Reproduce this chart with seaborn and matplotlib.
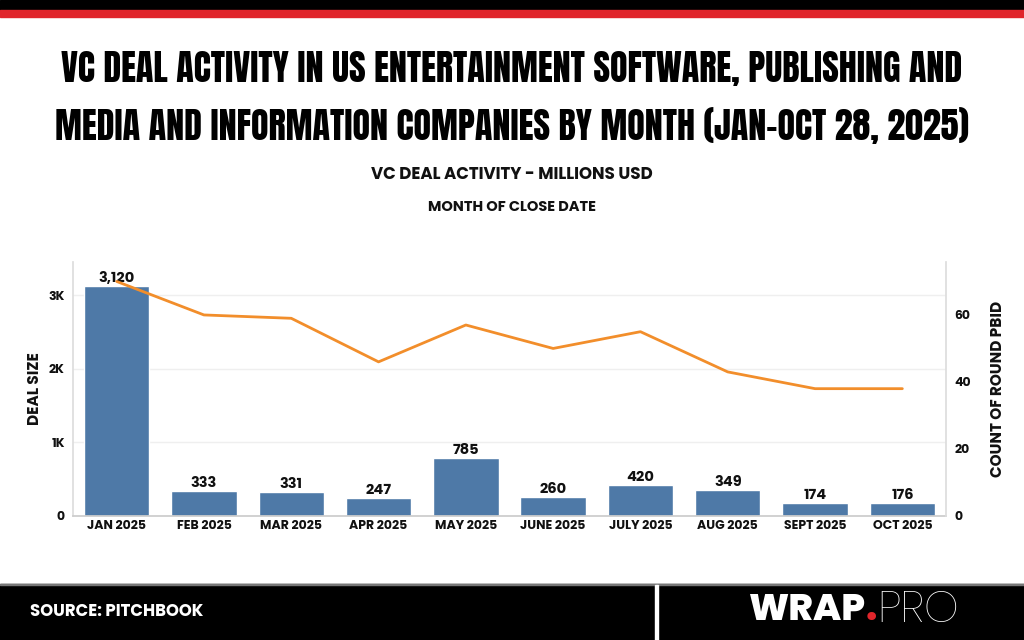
import numpy as np
import pandas as pd
import matplotlib
matplotlib.use("Agg")
import matplotlib.pyplot as plt
from matplotlib.patches import Rectangle
from matplotlib.ticker import FixedLocator
from matplotlib import font_manager as fm
import seaborn as sns

months = ["JAN 2025", "FEB 2025", "MAR 2025", "APR 2025", "MAY 2025",
          "JUNE 2025", "JULY 2025", "AUG 2025", "SEPT 2025", "OCT 2025"]
deal_size = [3120, 333, 331, 247, 785, 260, 420, 349, 174, 176]
round_count = [70, 60, 59, 46, 57, 50, 55, 43, 38, 38]
left_ticks = [0, 1000, 2000, 3000]
left_tick_labels = ["0", "1K", "2K", "3K"]
right_ticks = [0, 20, 40, 60]

title_lines = ["VC DEAL ACTIVITY IN US ENTERTAINMENT SOFTWARE, PUBLISHING AND",
               "MEDIA AND INFORMATION COMPANIES BY MONTH (JAN\u2013OCT 28, 2025)"]
subtitle = "VC DEAL ACTIVITY - MILLIONS USD"
subsubtitle = "MONTH OF CLOSE DATE"
source = "SOURCE: PITCHBOOK"

BAR = "#4E79A7"
LINE = "#F28E2B"
TXT = "#111111"


def pick(cands):
    out = []
    for c in cands:
        try:
            fm.findfont(fm.FontProperties(family=c), fallback_to_default=False)
            out.append(c)
        except Exception:
            pass
    out.append("DejaVu Sans")
    return out


BODY = pick(["Poppins", "Montserrat Alternates"])
TITLE = pick(["Anton", "Bebas Neue", "Barlow Condensed", "Oswald", "Liberation Sans Narrow"])
TITLE_W = "normal" if TITLE[0] in ("Anton", "Bebas Neue") else "bold"

sns.set_theme(style="white")
plt.rcParams["font.family"] = BODY

df = pd.DataFrame({"month": months, "deal": deal_size, "count": round_count})

W, H = 1024, 640
fig = plt.figure(figsize=(W / 100, H / 100), dpi=100)


def fx(px):
    return px / W


def fy(py):
    return 1 - py / H


# top stripes
fig.patches.append(Rectangle((0, fy(10)), 1, 10 / H, transform=fig.transFigure, color="#000000", zorder=0))
fig.patches.append(Rectangle((0, fy(17)), 1, 7 / H, transform=fig.transFigure, color="#E0252B", zorder=0))
# footer
fig.patches.append(Rectangle((0, 0), 1, (H - 584) / H, transform=fig.transFigure, color="#000000", zorder=0))
fig.patches.append(Rectangle((0, fy(585)), 1, 1.5 / H, transform=fig.transFigure, color="#777777", zorder=1))
fig.patches.append(Rectangle((fx(655), 0), 3 / W, (H - 585) / H, transform=fig.transFigure, color="#FFFFFF", zorder=1))

ax = fig.add_axes([fx(73), fy(516), fx(946) - fx(73), (516 - 262) / H])
sns.barplot(data=df, x="month", y="deal", color=BAR, saturation=1, width=0.75, ax=ax, zorder=2)
ax.set_xlim(-0.5, len(months) - 0.5)
ax.set_ylim(0, 3450)
ax.yaxis.set_major_locator(FixedLocator(left_ticks))
ax.set_yticklabels(left_tick_labels)
ax.grid(axis="y", color="#EFEFEF", linewidth=1, zorder=0)
ax.set_axisbelow(True)
ax.set_xlabel("")
ax.set_ylabel("DEAL SIZE", fontsize=11, fontweight="bold", color=TXT, labelpad=4)
for s in ["top", "right"]:
    ax.spines[s].set_visible(False)
ax.spines["left"].set_color("#DDDDDD")
ax.spines["bottom"].set_color("#CCCCCC")
ax.tick_params(axis="both", length=0, labelsize=9, colors=TXT)
ax.tick_params(axis="y", pad=6)
ax.tick_params(axis="x", pad=3)
for lab in ax.get_xticklabels() + ax.get_yticklabels():
    lab.set_fontweight("bold")
ax.bar_label(ax.containers[0], labels=[f"{v:,.0f}" for v in deal_size],
             fontsize=10.5, fontweight="bold", color=TXT, padding=0)

ax2 = ax.twinx()
sns.lineplot(x=np.arange(len(months)), y=round_count, color=LINE, linewidth=2.0, ax=ax2, zorder=3)
ax2.set_ylim(0, 75.8)
ax2.yaxis.set_major_locator(FixedLocator(right_ticks))
ax2.set_ylabel("COUNT OF ROUND PBID", fontsize=11, fontweight="bold", color=TXT, labelpad=14)
for s in ["top", "left", "bottom"]:
    ax2.spines[s].set_visible(False)
ax2.spines["right"].set_color("#DDDDDD")
ax2.tick_params(axis="y", length=0, labelsize=9, colors=TXT, pad=6)
for lab in ax2.get_yticklabels():
    lab.set_fontweight("bold")
ax2.grid(False)

fig.canvas.draw()
renderer = fig.canvas.get_renderer()


def fit_width(t, target_px):
    fig.canvas.draw()
    w = t.get_window_extent(renderer).width
    t.set_fontsize(t.get_fontsize() * target_px / w)
    fig.canvas.draw()
    return t.get_window_extent(renderer)


# titles, fitted to the reference width
t1 = fig.text(0.5, fy(68), title_lines[0], ha="center", va="center",
              fontsize=30, fontweight=TITLE_W, family=TITLE, color="#000000")
t2 = fig.text(0.5, fy(125), title_lines[1], ha="center", va="center",
              fontsize=30, fontweight=TITLE_W, family=TITLE, color="#000000")
fit_width(t1, 900)
t2.set_fontsize(t1.get_fontsize())

fig.text(0.5, fy(175), subtitle, ha="center", va="center", fontsize=12, fontweight="bold", color=TXT)
fig.text(0.5, fy(208), subsubtitle, ha="center", va="center", fontsize=10.5, fontweight="bold", color=TXT)

ts = fig.text(fx(30), fy(612), source, ha="left", va="center", fontsize=11.5, fontweight="bold",
              color="white")
fit_width(ts, 174)

tw = fig.text(fx(749), fy(611), "WRAP", ha="left", va="center", fontsize=24, fontweight=800,
              color="white")
bb = fit_width(tw, 117)
td = fig.text(bb.x1 / W, fy(611), ".", ha="left", va="center", fontsize=tw.get_fontsize(),
              fontweight=800, color="#E0252B")
fig.canvas.draw()
bb2 = td.get_window_extent(renderer)
tp = fig.text(bb2.x1 / W, fy(611), "PRO", ha="left", va="center", fontsize=tw.get_fontsize(),
              fontweight=200, color="white")
fit_width(tp, 959 - bb2.x1)

fig.savefig("out.png", dpi=100)
